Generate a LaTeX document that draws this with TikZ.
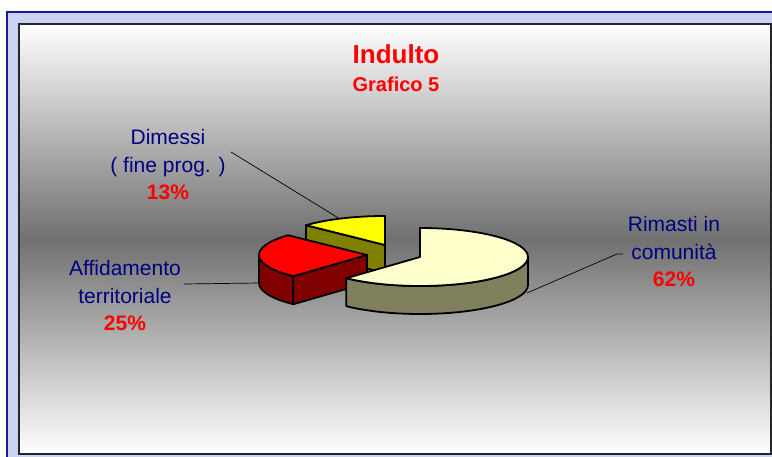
\documentclass[tikz,border=0pt]{standalone}
\usepackage{fontspec}
\setmainfont{Liberation Sans}
\usetikzlibrary{calc}

\definecolor{labelblue}{HTML}{000080}
\definecolor{creamtop}{HTML}{FFFFCC}
\definecolor{creamside}{HTML}{80805F}
\definecolor{redtop}{HTML}{FF0000}
\definecolor{redside}{HTML}{800000}
\definecolor{yeltop}{HTML}{FFFF00}
\definecolor{yelside}{HTML}{808000}
\definecolor{framefill}{HTML}{CAD3F3}
\definecolor{frameline}{HTML}{1A1A99}

\begin{document}
\begin{tikzpicture}[x=1pt,y=1pt,
  lbl/.style={text=labelblue,align=center,inner sep=0pt,anchor=base,font=\fontsize{21}{27.5}\selectfont},
  headline/.style={text=red,inner sep=0pt,anchor=base,font=\bfseries},
  slice/.style={draw=black,line width=1.8pt,line join=round},
  leader/.style={draw=black,line width=0.7pt}]
\useasboundingbox (0,0) rectangle (772,-457);

% frame and chart area
\fill[white] (0,0) rectangle (772,-457);
\filldraw[fill=framefill,draw=frameline,line width=1.5pt] (7,-12) rectangle (776,-461);
\shade[top color=white,bottom color=white,middle color=black!56] (19,-24) rectangle (771,-454);
\draw[black!85,line width=1.5pt] (19,-24) rectangle (771,-454);

% title
\node[headline,font=\fontsize{26}{30}\selectfont\bfseries] (title) at (396,-64) {Indulto};
\node[headline,font=\fontsize{20}{24}\selectfont\bfseries] (subtitle) at (396,-92) {Grafico 5};

% labels (base = last line)
\node[lbl] (dimessi) at (168,-200) {Dimessi\\( fine prog. )\\{\bfseries\color{red}13\%}};
\node[lbl] (affid) at (125,-331) {Affidamento\\territoriale\\{\bfseries\color{red}25\%}};
\node[lbl] (rimasti) at (674,-287) {Rimasti in\\comunit\`a\\{\bfseries\color{red}62\%}};

% leader lines
\coordinate (dim-start) at (231,-152);
\coordinate (dim-end) at (340,-219);
\coordinate (aff-start) at (184,-284);
\coordinate (aff-end) at (260,-283);
\coordinate (rim-start) at (623,-254);
\coordinate (rim-knee) at (617,-254);
\coordinate (rim-end) at (527,-293);
\draw[leader] (dim-start) -- (dim-end);
\draw[leader] (aff-start) -- (aff-end);
\draw[leader] (rim-start) -- (rim-knee) -- (rim-end);

% pie centres
\coordinate (yc) at (385,-245);
\coordinate (rc) at (367,-255);
\coordinate (cc) at (420,-257);

% Dimessi 13%
\filldraw[slice,fill=yelside] (yc) -- ($(yc)+(137:108 and 29)$) -- ++(0,-28) -- ($(yc)+(0,-28)$) -- cycle;
\filldraw[slice,fill=yeltop] (yc) -- ($(yc)+(90:108 and 29)$)
  arc[start angle=90,end angle=137,x radius=108,y radius=29] -- cycle;

% Affidamento 25%
\filldraw[slice,fill=redside] ($(rc)+(180:108 and 29)$)
  arc[start angle=180,end angle=227,x radius=108,y radius=29] -- ++(0,-28)
  arc[start angle=227,end angle=180,x radius=108,y radius=29] -- cycle;
\filldraw[slice,fill=redside] (rc) -- ($(rc)+(227:108 and 29)$) -- ++(0,-28) -- ($(rc)+(0,-28)$) -- cycle;
\filldraw[slice,fill=redtop] (rc) -- ($(rc)+(137:108 and 29)$)
  arc[start angle=137,end angle=227,x radius=108,y radius=29] -- cycle;

% Rimasti 62%
\filldraw[slice,fill=creamside] ($(cc)+(-133:108 and 29)$)
  arc[start angle=-133,end angle=0,x radius=108,y radius=29] -- ++(0,-28)
  arc[start angle=0,end angle=-133,x radius=108,y radius=29] -- cycle;
\filldraw[slice,fill=creamtop] (cc) -- ($(cc)+(90:108 and 29)$)
  arc[start angle=90,end angle=-133,x radius=108,y radius=29] -- cycle;

\end{tikzpicture}
\end{document}
